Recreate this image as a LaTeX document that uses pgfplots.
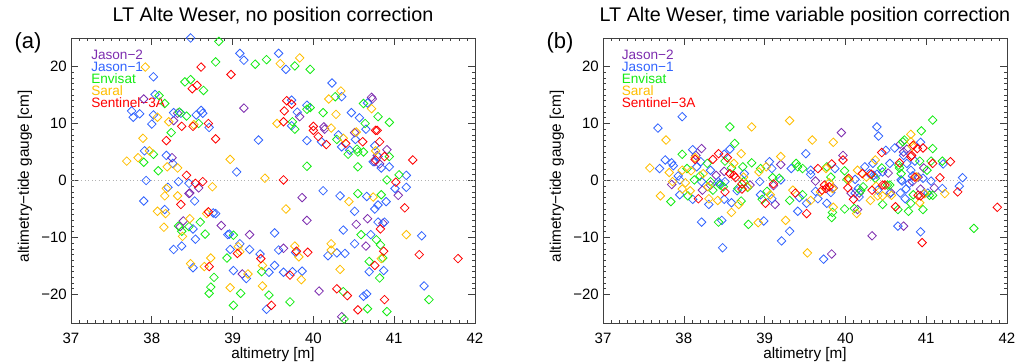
\documentclass[border=0pt]{standalone}
\usepackage{pgfplots}
\pgfplotsset{compat=1.18}
\usepackage{fontspec}
\setmainfont{Liberation Sans}
\definecolor{cjtwo}{RGB}{125,45,175}
\definecolor{cjone}{RGB}{50,100,255}
\definecolor{cenv}{RGB}{20,235,20}
\definecolor{csar}{RGB}{255,190,0}
\definecolor{csen}{RGB}{255,0,0}
\tikzset{lg/.style={anchor=base west, inner sep=0pt, font=\fontsize{10.2}{11}\selectfont}}
\pgfplotsset{
 myax/.style={
  scale only axis, width=303pt, height=213.75pt,
  xmin=37,xmax=42,ymin=-25,ymax=25,
  xtick={37,38,39,40,41,42},
  ytick={-20,-10,0,10,20}, yticklabels={−20,−10,0,10,20},
  minor x tick num=9, minor y tick num=9,
  tick align=inside, major tick length=5pt, minor tick length=2.5pt,
  axis line style={line width=0.5pt, black!75},
  every tick/.style={black!75, line width=0.45pt},
  tick label style={font=\fontsize{11.25}{13}\selectfont},
  xticklabel style={inner sep=0pt, anchor=north, yshift=-7.5pt},
  yticklabel style={inner sep=0pt, anchor=east, xshift=-3pt},
  label style={font=\fontsize{11.5}{13}\selectfont},
  xlabel={altimetry [m]}, ylabel={altimetry−tide gauge [cm]},
  xlabel style={at={(axis description cs:0.5,0)}, anchor=base, yshift=-27pt},
  ylabel style={at={(axis description cs:-0.114,0.515)}, anchor=center},
  title style={font=\fontsize{14.8}{17}\selectfont, at={(axis description cs:0.5,1)}, anchor=base, yshift=6pt},
  /pgf/number format/assume math mode=true,
 },
 sc/.style={only marks, mark=diamond, mark size=3.2pt, color=#1, mark options={xscale=1.333, line width=0.6pt, draw=#1, fill=none}},
}
\begin{document}
\begin{tikzpicture}
\useasboundingbox (0,0) rectangle (771.75pt,272.25pt);
\node[font=\fontsize{16.5}{18}\selectfont] at (21pt,240pt) {(a)};
\node[font=\fontsize{16.5}{18}\selectfont] at (420pt,240pt) {(b)};
\begin{axis}[myax, at={(53.25pt,30pt)}, anchor=south west, title={LT Alte Weser, no position correction}]
\addplot[gray!60, dotted, line width=0.6pt] coordinates {(37,0) (42,0)};
\addplot[sc=cjtwo] table {
x y
37.90 14.3
38.32 11.8
38.27 10.5
38.25 4.0
38.58 -1.3
38.47 -2.2
38.46 -2.3
38.39 -7.1
38.35 -8.1
38.86 -7.9
39.21 -9.5
39.12 -16.4
39.63 -11.9
39.86 -3.0
39.92 -7.0
39.14 12.7
39.83 11.2
40.13 9.4
40.14 9.0
40.51 8.4
40.72 14.6
40.73 14.3
40.91 5.4
40.79 4.4
40.76 3.3
40.82 2.9
41.05 -2.6
40.53 -7.7
40.67 -6.7
40.86 -7.5
40.65 -11.5
40.07 -19.4
40.35 -23.9
};
\addplot[sc=cjone] table {
x y
38.48 25.0
39.09 22.3
39.14 21.1
39.57 22.3
39.66 19.5
38.02 18.2
38.04 15.1
37.75 12.2
37.77 11.1
37.85 11.7
38.02 11.5
38.00 9.9
38.27 11.9
38.36 11.8
38.55 11.5
38.61 12.3
38.63 11.8
38.71 9.3
37.91 5.2
38.18 4.4
38.26 3.0
37.93 0.0
38.33 -0.2
38.46 -0.5
38.20 -1.2
38.53 -3.6
37.90 -3.6
38.16 -5.1
38.76 -5.7
38.79 -5.8
38.51 -8.5
38.54 -10.3
38.37 -11.5
38.27 -12.1
38.94 -9.5
38.96 -9.4
39.09 -11.1
38.97 -12.1
39.21 -12.1
38.51 -15.3
39.01 -15.8
39.17 -17.2
39.34 -12.9
39.45 -16.1
39.42 -22.6
39.52 -9.2
39.57 -12.2
39.52 -14.9
39.63 -16.1
39.74 -16.0
39.78 -12.6
39.86 -15.9
39.05 1.5
39.32 7.1
39.73 14.1
39.73 9.6
39.80 12.0
39.92 13.2
39.92 7.0
40.10 6.8
40.23 17.1
40.35 14.7
40.31 8.0
40.35 5.9
40.45 5.3
40.47 11.9
40.52 7.2
40.57 11.0
40.65 9.0
40.67 13.6
40.76 6.1
40.74 3.3
40.80 4.2
40.84 2.2
40.94 2.4
41.15 0.9
41.01 -1.4
41.15 -1.2
41.34 -9.7
41.37 -18.5
40.66 -2.8
40.33 -2.7
40.12 -1.8
40.51 -5.4
40.80 -4.3
40.76 -5.0
40.90 -3.7
40.80 -7.3
40.88 -7.3
40.71 -9.5
40.51 -11.1
40.37 -8.7
40.18 -13.2
40.29 -12.7
40.39 -12.8
40.69 -16.0
40.87 -15.8
40.62 -20.3
40.66 -19.9
};
\addplot[sc=cenv] table {
x y
38.83 24.4
39.28 20.4
39.42 21.2
39.77 20.1
39.96 19.5
38.79 20.8
38.41 17.3
38.48 17.7
38.64 15.8
38.09 14.9
38.16 13.5
38.34 12.0
38.43 11.3
38.58 10.0
38.24 8.4
38.02 4.6
37.90 3.2
38.08 1.7
38.60 -7.3
38.33 -8.0
38.37 -8.9
38.46 -8.1
38.66 -9.4
39.01 -9.6
38.93 -13.6
38.77 -17.0
38.73 -18.7
38.71 -19.8
39.10 -19.8
39.01 -21.9
39.36 -16.0
39.45 -20.1
39.71 -21.3
39.92 2.5
39.74 10.3
39.77 9.0
39.92 12.5
39.96 12.8
40.12 11.9
40.27 14.7
40.29 7.2
40.43 4.6
40.54 5.5
40.55 5.0
40.55 2.4
40.62 13.5
40.62 5.0
40.64 10.0
40.80 11.2
40.94 10.2
40.94 4.2
40.91 0.1
41.06 1.0
41.43 -20.9
40.55 -2.3
40.84 -2.5
40.59 -9.5
40.78 -10.4
40.83 -11.3
40.86 -13.6
40.69 -14.2
40.82 -17.1
40.37 -19.5
40.67 -22.5
40.91 -23.0
40.38 -24.3
};
\addplot[sc=csar] table {
x y
39.59 20.5
39.83 21.5
37.92 19.9
38.07 11.1
38.21 10.3
38.52 9.8
37.89 7.4
37.97 5.2
37.83 4.0
37.69 3.4
38.19 2.4
38.32 2.2
38.75 -1.1
38.18 -1.4
38.16 -2.7
38.32 -2.7
38.07 -5.4
38.17 -5.8
38.68 -5.8
38.47 -6.7
38.15 -8.2
38.38 -9.8
39.07 -11.6
39.09 -12.5
38.73 -13.6
38.65 -15.1
38.48 -14.6
39.19 -16.4
38.97 -18.8
39.37 -14.9
39.37 -18.5
39.77 -11.5
39.82 -13.4
39.85 -17.4
39.66 -5.0
39.40 0.4
38.97 3.7
39.55 10.0
40.22 9.2
40.19 14.3
40.34 15.7
40.28 11.6
40.37 7.4
40.53 8.5
40.72 12.6
40.77 5.2
41.15 -9.5
40.44 -3.7
40.74 -2.9
40.22 -11.1
40.22 -12.2
40.84 -13.7
40.33 -15.6
};
\addplot[sc=csen] table {
x y
38.98 18.6
38.61 19.9
38.50 16.1
38.56 16.7
38.37 9.5
38.51 9.5
38.70 10.0
38.18 7.0
38.79 7.3
38.43 0.9
38.54 -0.5
38.63 -0.2
38.36 -4.2
38.70 -5.5
38.71 -15.1
39.06 -12.8
39.35 -13.7
39.48 -21.9
39.71 -16.6
39.79 -12.4
39.93 -12.6
39.63 0.1
39.63 10.3
39.64 12.2
39.67 14.0
39.73 13.4
40.00 9.5
40.00 8.8
40.06 7.7
40.16 6.3
40.40 6.5
40.61 6.8
40.77 8.8
40.79 8.8
40.82 6.8
40.77 3.6
40.88 4.2
41.02 -0.3
41.23 3.6
41.13 -4.8
41.31 -13.0
41.79 -13.7
40.83 -8.5
40.87 -12.4
40.76 -14.9
40.29 -19.0
40.42 -20.2
40.88 -20.9
40.55 -22.7
};
\node[lg, text=cjtwo] at (axis description cs:0.0495,0.9230) {Jason−2};
\node[lg, text=cjone] at (axis description cs:0.0495,0.8814) {Jason−1};
\node[lg, text=cenv] at (axis description cs:0.0495,0.8398) {Envisat};
\node[lg, text=csar] at (axis description cs:0.0495,0.7981) {Saral};
\node[lg, text=csen] at (axis description cs:0.0495,0.7565) {Sentinel−3A};
\end{axis}
\begin{axis}[myax, at={(452.25pt,30pt)}, anchor=south west, title={LT Alte Weser, time variable position correction}]
\addplot[gray!60, dotted, line width=0.6pt] coordinates {(37,0) (42,0)};
\addplot[sc=cjtwo] table {
x y
37.85 -0.7
38.15 4.4
38.22 5.6
38.23 -1.7
38.33 -0.8
38.40 0.9
38.50 1.6
38.82 -0.8
39.13 -4.2
39.11 -0.9
39.20 2.8
39.63 -0.1
39.83 -12.9
39.85 -1.3
39.95 8.4
39.97 4.4
40.07 -2.2
40.15 -5.1
40.17 -2.2
40.33 -9.7
40.53 1.3
40.56 -2.1
40.68 6.4
40.72 -8.0
40.72 5.0
40.76 5.5
40.83 -0.2
40.90 0.6
40.93 -1.5
40.97 2.2
41.10 -1.3
};
\addplot[sc=cjone] table {
x y
37.98 11.2
37.68 9.2
37.70 2.1
37.77 3.6
37.85 3.1
37.87 2.6
37.93 0.8
37.95 0.1
37.95 -2.5
38.11 5.4
38.11 -3.3
38.16 2.4
38.21 3.3
38.22 -0.2
38.22 -7.3
38.31 -4.2
38.33 1.8
38.43 -0.2
38.44 -0.6
38.47 -7.0
38.48 -11.8
38.51 -0.2
38.50 -3.3
38.50 4.6
38.57 5.5
38.59 -3.9
38.66 -1.8
38.75 1.2
38.94 -0.2
38.95 -2.5
38.99 -7.1
39.06 3.3
39.09 2.1
39.09 -3.2
39.20 0.1
39.21 -10.6
39.31 -8.9
39.33 2.1
39.41 -5.4
39.43 -3.0
39.51 4.7
39.52 -4.0
39.57 1.1
39.57 1.8
39.63 -1.9
39.66 -3.2
39.73 -13.8
39.77 -4.0
39.82 -2.1
39.87 2.1
40.12 -2.2
40.12 0.2
40.16 -1.4
40.17 -2.9
40.24 2.4
40.30 1.2
40.34 3.0
40.35 0.9
40.39 1.1
40.39 9.4
40.41 7.8
40.40 -1.7
40.46 1.5
40.50 5.3
40.55 3.0
40.55 -2.3
40.61 5.7
40.65 -8.0
40.69 0.1
40.70 -0.1
40.68 -2.2
40.72 4.4
40.75 -1.5
40.74 -3.2
40.76 3.0
40.79 -0.5
40.81 1.8
40.83 0.8
40.86 3.4
40.93 6.7
40.93 -9.0
40.96 0.4
40.97 -2.3
41.02 -2.2
41.06 -0.1
41.21 2.9
41.20 -1.4
41.41 -1.0
41.45 0.5
};
\addplot[sc=cenv] table {
x y
37.84 -3.7
37.98 4.6
38.04 2.1
38.05 -2.7
38.13 0.1
38.20 0.8
38.29 3.0
38.33 -0.2
38.36 -1.7
38.45 -0.8
38.43 -7.3
38.49 -1.1
38.51 3.4
38.57 9.4
38.63 6.5
38.59 2.2
38.67 -1.4
38.73 2.4
38.74 -0.2
38.71 -3.6
38.79 -1.2
38.84 3.1
38.80 -7.7
38.95 2.1
38.97 -3.3
39.03 -1.9
39.10 0.5
39.18 0.4
39.31 -3.5
39.39 3.0
39.41 2.4
39.47 -2.5
39.47 2.1
39.77 2.4
39.82 0.6
39.84 -5.6
39.83 -6.5
39.99 1.7
39.99 -5.0
40.02 0.2
40.11 -4.9
40.19 -1.8
40.22 -1.1
40.37 0.4
40.45 2.2
40.46 -4.2
40.52 -0.8
40.55 -0.8
40.66 2.7
40.67 2.2
40.65 -5.1
40.69 1.2
40.71 6.8
40.73 7.1
40.78 -5.4
40.81 -4.0
40.84 -2.5
40.92 3.4
40.94 8.7
40.96 -5.1
41.01 1.8
41.04 -2.6
41.06 3.4
41.08 5.6
41.08 10.6
41.08 -2.6
41.20 3.4
41.59 -8.4
};
\addplot[sc=csar] table {
x y
37.78 7.1
37.58 2.2
37.82 1.4
37.86 -0.2
37.71 -2.7
37.98 1.8
37.98 -1.5
38.02 -0.4
38.08 -1.8
38.09 1.7
38.14 4.0
38.24 1.2
38.30 -1.1
38.31 -3.2
38.42 -3.5
38.59 -5.6
38.62 3.0
38.68 -4.2
38.71 4.7
38.74 0.6
38.79 -1.1
38.84 9.4
38.93 1.5
38.92 -7.4
39.02 2.4
39.07 -2.5
39.20 4.2
39.26 -7.0
39.31 10.5
39.35 -1.7
39.53 -12.7
39.57 -3.5
39.59 7.1
39.69 -2.0
39.76 2.1
39.80 -0.4
39.84 -1.4
39.85 -4.7
39.85 6.7
40.04 0.1
40.14 -5.8
40.15 1.8
40.26 0.6
40.31 -3.5
40.37 3.6
40.38 -1.0
40.40 -2.7
40.46 -2.7
40.57 -2.6
40.81 8.1
40.83 6.0
40.81 6.8
40.88 0.6
40.92 -3.9
40.98 -2.3
41.23 -2.3
};
\addplot[sc=csen] table {
x y
38.14 3.7
38.18 -3.2
38.36 3.7
38.43 4.7
38.51 -2.0
38.54 4.0
38.57 1.2
38.62 0.9
38.64 0.5
38.72 -1.5
38.72 -0.6
39.01 -4.0
39.11 -0.6
39.38 -2.2
39.52 -5.8
39.66 2.1
39.71 -1.7
39.74 -0.8
39.76 -1.4
39.80 -1.1
39.83 2.9
39.97 3.6
40.04 0.4
40.03 -1.3
40.10 -3.3
40.21 1.2
40.32 1.1
40.33 -1.7
40.45 4.9
40.46 -0.8
40.49 -0.8
40.62 -4.6
40.67 3.1
40.81 4.2
40.82 4.4
40.84 6.2
40.86 0.6
40.89 5.6
40.90 -2.6
40.93 -2.7
40.96 5.7
40.95 -10.9
41.08 3.0
41.17 0.5
41.30 3.3
41.39 -2.0
41.88 -4.7
};
\node[lg, text=cjtwo] at (axis description cs:0.046,0.9230) {Jason−2};
\node[lg, text=cjone] at (axis description cs:0.046,0.8814) {Jason−1};
\node[lg, text=cenv] at (axis description cs:0.046,0.8398) {Envisat};
\node[lg, text=csar] at (axis description cs:0.046,0.7981) {Saral};
\node[lg, text=csen] at (axis description cs:0.046,0.7565) {Sentinel−3A};
\end{axis}
\end{tikzpicture}
\end{document}
